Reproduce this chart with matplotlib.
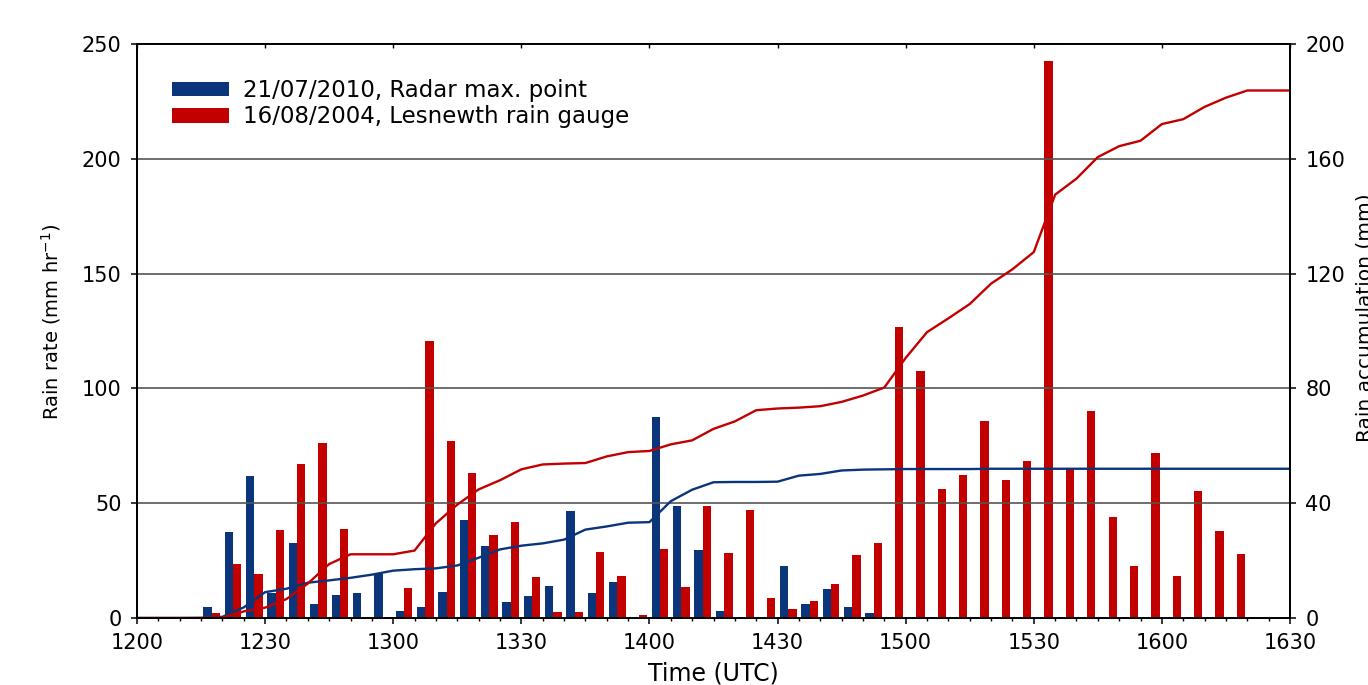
import matplotlib
matplotlib.use("Agg")
import numpy as np
import matplotlib.pyplot as plt
from matplotlib.ticker import MultipleLocator

# 5-minute intervals, minutes after 1200 UTC
interval_start = list(range(0, 260, 5))

# rain rate (mm/hr) per 5-minute interval
radar_rate = [0, 0, 0.6, 4.7, 37.5, 62.0, 11.0, 32.5, 6.0, 10.0,
              10.8, 19.2, 3.0, 4.6, 11.2, 42.5, 31.2, 6.8, 9.5, 14.0,
              46.5, 11.0, 15.8, 0, 87.6, 48.6, 29.8, 2.9, 0, 0.5,
              22.8, 6.3, 12.5, 4.8, 2.0, 0, 0, 0, 0, 0,
              0.3, 0, 0, 0, 0, 0, 0, 0, 0, 0,
              0, 0]
gauge_rate = [0, 0, 0, 2.0, 23.6, 19.3, 38.5, 67.0, 76.3, 38.9,
              0, 0, 13.2, 120.5, 77.3, 63.2, 36.3, 42.0, 18.0, 2.5,
              2.5, 28.9, 18.3, 1.2, 30.2, 13.3, 48.6, 28.2, 47.0, 8.7,
              4.0, 7.4, 14.8, 27.3, 32.5, 126.6, 107.4, 56.3, 62.2, 85.9,
              60.2, 68.4, 242.5, 65.2, 90.2, 43.8, 22.5, 71.7, 18.1, 55.3,
              38.1, 27.7]

# accumulation (mm) at the end of each 5 minutes
accum_time = list(range(0, 275, 5))
radar_accum = [0, 0, 0, 0.05, 0.4, 3.7, 9.0, 10.2, 12.3, 13.1,
               14.0, 15.1, 16.5, 17.0, 17.3, 18.3, 21.0, 23.9, 25.2, 26.0,
               27.3, 30.8, 31.9, 33.2, 33.4, 40.7, 44.7, 47.3, 47.4, 47.4,
               47.5, 49.6, 50.2, 51.4, 51.7, 51.8, 51.9, 51.9, 51.9, 51.9,
               52.0, 52.0, 52.0, 52.0, 52.0, 52.0, 52.0, 52.0, 52.0, 52.0,
               52.0, 52.0, 52.0, 52.0, 52.0]
gauge_accum = [0, 0, 0, 0, 0.2, 2.3, 3.6, 6.6, 12.0, 18.8,
               22.2, 22.2, 22.2, 23.5, 33.0, 39.5, 44.8, 48.0, 51.8, 53.5,
               53.8, 54.0, 56.3, 57.8, 58.2, 60.5, 61.9, 65.9, 68.5, 72.4,
               73.0, 73.3, 73.8, 75.3, 77.5, 80.3, 90.6, 99.6, 104.4, 109.4,
               116.5, 121.5, 127.5, 147.5, 153.1, 160.6, 164.4, 166.3, 172.1, 173.8,
               178.1, 181.3, 183.8, 183.8, 183.8]

time_ticks = [0, 30, 60, 90, 120, 150, 180, 210, 240, 270]
time_labels = ['1200', '1230', '1300', '1330', '1400', '1430', '1500', '1530', '1600', '1630']
series_labels = ['21/07/2010, Radar max. point', '16/08/2004, Lesnewth rain gauge']

blue = '#0b357a'
red = '#c20000'

plt.rcParams['font.family'] = ['DejaVu Sans']
plt.rcParams['font.size'] = 15

W, H = 1368, 685
fig = plt.figure(figsize=(W / 100, H / 100), dpi=100)
ax = fig.add_axes([137 / W, 1 - 618 / H, (1290 - 137) / W, (618 - 44) / H])

bar_w = 1.95
mid = np.array(interval_start) + 2.5
b1 = ax.bar(mid - bar_w, radar_rate, width=bar_w, align='edge', color=blue, linewidth=0)
b2 = ax.bar(mid, gauge_rate, width=bar_w, align='edge', color=red, linewidth=0)

ax.set_xlim(0, 270)
ax.set_ylim(0, 250)
ax.set_xticks(time_ticks)
ax.set_xticklabels(time_labels)
ax.xaxis.set_minor_locator(MultipleLocator(5))
ax.set_yticks(range(0, 251, 50))
ax.tick_params(axis='both', which='major', direction='out', length=4, width=1.1, pad=7, labelsize=15)
ax.tick_params(axis='x', which='minor', direction='out', length=2.5, width=1.0)
ax.set_axisbelow(False)
ax.yaxis.grid(True, color='#555555', linewidth=1.2)

top = ax.secondary_xaxis('top')
top.set_xticks(time_ticks)
top.tick_params(direction='in', length=3, width=1.0, labeltop=False)

ax2 = ax.twinx()
ax2.set_ylim(0, 200)
ax2.set_yticks(range(0, 201, 40))
ax2.tick_params(axis='y', direction='out', length=4, width=1.1, pad=7, labelsize=15)
ax2.plot(accum_time, radar_accum, color=blue, linewidth=1.7)
ax2.plot(accum_time, gauge_accum, color=red, linewidth=1.7)

for a in (ax, ax2):
    for s in a.spines.values():
        s.set_linewidth(1.3)
top.spines['top'].set_linewidth(1.3)

fig.text(51 / W, 1 - 322 / H, 'Rain rate (mm hr$^{-1}$)', rotation=90, ha='center', va='center', fontsize=14)
fig.text(1365 / W, 1 - 318 / H, 'Rain accumulation (mm)', rotation=90, ha='center', va='center', fontsize=14.5)
fig.text(713 / W, 1 - 661 / H, 'Time (UTC)', ha='center', va='top', fontsize=17)

ax.legend([b1, b2], series_labels, loc='upper left', bbox_to_anchor=(35 / 1153, (618 - 79) / 574),
          frameon=False, borderpad=0, borderaxespad=0, handlelength=2.5, handleheight=0.6,
          handletextpad=0.6, labelspacing=0.15, fontsize=16.5)

fig.savefig('out.png', dpi=100)
